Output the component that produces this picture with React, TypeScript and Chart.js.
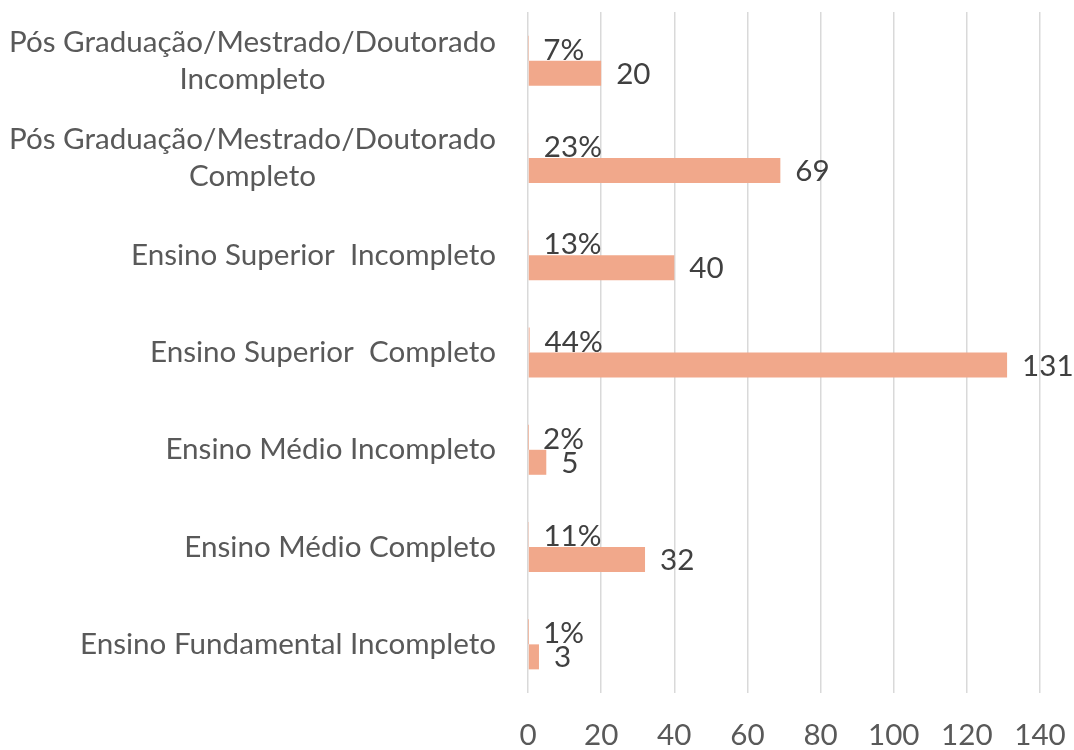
import React, { useEffect, useRef } from "react";
import { Chart, registerables } from "chart.js";

Chart.register(...registerables);

const categories: string[][] = [
  ["Pós Graduação/Mestrado/Doutorado", "Incompleto"],
  ["Pós Graduação/Mestrado/Doutorado", "Completo"],
  ["Ensino Superior  Incompleto"],
  ["Ensino Superior  Completo"],
  ["Ensino Médio Incompleto"],
  ["Ensino Médio Completo"],
  ["Ensino Fundamental Incompleto"],
];
const percentValues = [0.07, 0.23, 0.13, 0.44, 0.02, 0.11, 0.01];
const countValues = [20, 69, 40, 131, 5, 32, 3];
const xTickValues = [0, 20, 40, 60, 80, 100, 120, 140];

const FONT_FAMILY = "Lato, 'Open Sans', sans-serif";
const FONT_SIZE = 29.6;
const BAR_COLOR = "rgb(241,168,139)";
const TICK_COLOR = "#595959";
const LABEL_COLOR = "#404040";

const labelPlugin = {
  id: "customLabels",
  afterDatasetsDraw(chart: any) {
    const ctx = chart.ctx;
    ctx.save();
    ctx.font = `${FONT_SIZE}px ${FONT_FAMILY}`;
    // data labels
    ctx.fillStyle = LABEL_COLOR;
    ctx.textAlign = "left";
    ctx.textBaseline = "middle";
    chart.data.datasets.forEach((ds: any, di: number) => {
      const meta = chart.getDatasetMeta(di);
      meta.data.forEach((el: any, i: number) => {
        const v = ds.data[i];
        const txt = di === 0 ? `${Math.round(v * 100)}%` : `${v}`;
        ctx.fillText(txt, el.x + 15, el.y + (di === 0 ? 2 : 1));
      });
    });
    // category labels
    const yScale = chart.scales.y;
    const right = chart.chartArea.left - 32;
    const lineH = 37;
    ctx.fillStyle = TICK_COLOR;
    ctx.textAlign = "center";
    categories.forEach((lines, i) => {
      const cy = yScale.getPixelForValue(i);
      const w = Math.max(...lines.map((l) => ctx.measureText(l).width));
      const cx = right - w / 2;
      const startY = cy - ((lines.length - 1) * lineH) / 2;
      lines.forEach((l, li) => {
        ctx.fillText(l, cx, startY + li * lineH);
      });
    });
    ctx.restore();
  },
};

export default function App() {
  const ref = useRef<HTMLCanvasElement>(null);
  useEffect(() => {
    document.body.style.margin = "0";
    document.body.style.overflow = "hidden";
    const chart = new Chart(ref.current!, {
      type: "bar",
      data: {
        labels: categories.map((c) => c.join(" ")),
        datasets: [
          {
            label: "Percentual",
            data: percentValues,
            backgroundColor: BAR_COLOR,
            categoryPercentage: 0.514,
            barPercentage: 1,
          },
          {
            label: "Quantidade",
            data: countValues,
            backgroundColor: BAR_COLOR,
            categoryPercentage: 0.514,
            barPercentage: 1,
          },
        ],
      },
      options: {
        indexAxis: "y",
        animation: false,
        responsive: false,
        devicePixelRatio: 1,
        layout: { padding: { top: 12, right: 34, left: 0, bottom: 0 } },
        plugins: {
          legend: { display: false },
          tooltip: { enabled: false },
        },
        scales: {
          x: {
            min: 0,
            max: 140,
            afterBuildTicks: (scale: any) => {
              scale.ticks = xTickValues.map((v) => ({ value: v }));
            },
            afterFit: (scale: any) => {
              scale.height = 57;
              scale.paddingLeft = 0;
              scale.paddingRight = 0;
            },
            ticks: {
              color: TICK_COLOR,
              font: { family: FONT_FAMILY, size: FONT_SIZE },
              padding: 25,
              maxRotation: 0,
            },
            grid: { color: "#D9D9D9", lineWidth: 1.5, drawTicks: false },
            border: { display: false },
          },
          y: {
            afterFit: (scale: any) => {
              scale.width = 528;
            },
            ticks: { display: false },
            grid: { display: false, drawTicks: false },
            border: { display: false },
          },
        },
      },
      plugins: [labelPlugin],
    });
    return () => chart.destroy();
  }, []);
  return (
    <div style={{ width: 1074, height: 750 }}>
      <canvas ref={ref} width={1074} height={750} />
    </div>
  );
}
